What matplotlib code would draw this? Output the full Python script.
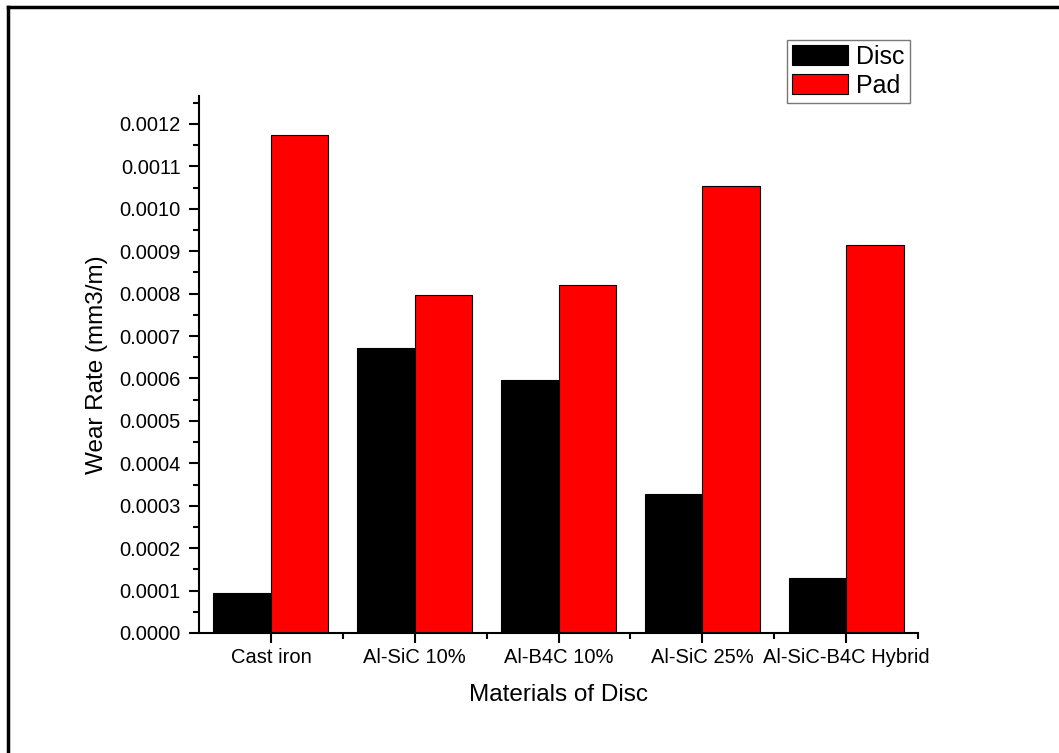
import matplotlib
matplotlib.use("Agg")
import matplotlib.pyplot as plt
import numpy as np
from matplotlib.lines import Line2D
from matplotlib.ticker import MultipleLocator, FixedLocator

categories = ["Cast iron", "Al-SiC 10%", "Al-B4C 10%", "Al-SiC 25%", "Al-SiC-B4C Hybrid"]
disc = [0.0000935, 0.000671, 0.000597, 0.000327, 0.000130]
pad = [0.001175, 0.000798, 0.000821, 0.001053, 0.000915]

plt.rcParams['font.family'] = ['Liberation Sans', 'DejaVu Sans']

fig = plt.figure(figsize=(10.59, 7.53), dpi=100)
ax = fig.add_axes([199/1059, 1-633/753, (918-199)/1059, (633-96)/753])

x = np.arange(len(categories))
w = 0.4
ax.bar(x - w/2, disc, width=w, color='black', edgecolor='black', linewidth=0.8, label='Disc')
ax.bar(x + w/2, pad, width=w, color='#ff0000', edgecolor='black', linewidth=0.8, label='Pad')

ax.set_xlim(-0.5, len(categories) - 0.5)
ax.set_ylim(0, 0.001266)
ax.yaxis.set_minor_locator(MultipleLocator(0.00005))
yt = np.arange(0, 0.00121, 0.0001)
ax.set_yticks(yt)
ax.set_yticklabels([f"{v:.4f}" for v in yt], fontsize=14.5)
ax.set_xticks(x)
ax.set_xticklabels(categories, fontsize=14.5)
ax.xaxis.set_minor_locator(FixedLocator(np.arange(0.5, len(categories), 1.0)))

for s in ['top', 'right']:
    ax.spines[s].set_visible(False)
for s in ['left', 'bottom']:
    ax.spines[s].set_linewidth(1.5)
ax.tick_params(which='major', direction='out', length=7, width=1.5, pad=4)
ax.tick_params(axis='y', which='major', pad=6)
ax.tick_params(which='minor', direction='out', length=4, width=1.5)

ax.set_xlabel("Materials of Disc", fontsize=17.5, labelpad=12)
ax.set_ylabel("Wear Rate (mm3/m)", fontsize=17.5, labelpad=8)

leg = ax.legend(loc='upper right', bbox_to_anchor=(910/1059, 1-40/753), bbox_transform=fig.transFigure,
                fontsize=18, frameon=True, fancybox=False, borderpad=0.2, labelspacing=0.2,
                handlelength=2.25, handleheight=0.85, handletextpad=0.35, borderaxespad=0)
leg.get_frame().set_edgecolor('#555555')
leg.get_frame().set_linewidth(1.0)

fig.add_artist(Line2D([8/1059, 1.0], [1-7/753, 1-7/753], transform=fig.transFigure, color='black', linewidth=2.5))
fig.add_artist(Line2D([8/1059, 8/1059], [0.0, 1-7/753], transform=fig.transFigure, color='black', linewidth=2.5))

fig.savefig("out.png", dpi=100)
